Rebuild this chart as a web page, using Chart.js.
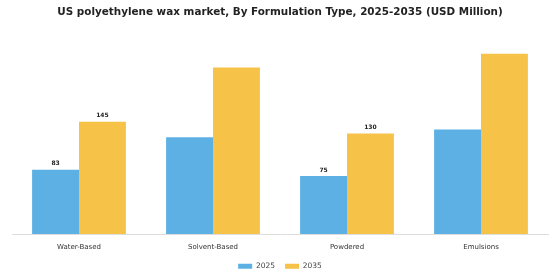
<!DOCTYPE html>
<html>
<head>
<meta charset="utf-8">
<script src="https://cdn.jsdelivr.net/npm/chart.js@4"></script>
<style>
  html, body { margin: 0; padding: 0; background: #fff; }
  #wrap { width: 560px; height: 280px; }
</style>
</head>
<body>
<div id="wrap"><canvas id="chart"></canvas></div>
<script>
const categories = ['Water-Based', 'Solvent-Based', 'Powdered', 'Emulsions'];
const values2025 = [83, 125, 75, 135];
const values2035 = [145, 215, 130, 233];
// only some bars carry a value label in the original
const labels2025 = ['83', '', '75', ''];
const labels2035 = ['145', '', '130', ''];

const barLabels = {
    id: 'barLabels',
    afterDatasetsDraw(chart) {
        const ctx = chart.ctx;
        const texts = [labels2025, labels2035];
        ctx.save();
        ctx.font = 'bold 6px "DejaVu Sans"';
        ctx.fillStyle = '#222';
        ctx.textAlign = 'center';
        ctx.textBaseline = 'bottom';
        chart.data.datasets.forEach((ds, i) => {
            chart.getDatasetMeta(i).data.forEach((bar, j) => {
                if (texts[i][j]) ctx.fillText(texts[i][j], bar.x, bar.y - 3);
            });
        });
        ctx.restore();
    }
};

const data = {
    labels: categories,
    datasets: [{
        label: '2025',
        data: values2025,
        backgroundColor: '#5DB0E4'
    }, {
        label: '2035',
        data: values2035,
        backgroundColor: '#F6C247'
    }]
};

const options = {
    responsive: true,
    maintainAspectRatio: false,
    animation: false,
    layout: { padding: { left: 12, right: 12, top: 4, bottom: 0 } },
    datasets: {
        bar: { barPercentage: 1, categoryPercentage: 0.7 }
    },
    plugins: {
        title: {
            display: true,
            text: 'US polyethylene wax market, By Formulation Type, 2025-2035 (USD Million)',
            color: '#222',
            font: { family: 'DejaVu Sans', size: 10.4, weight: 'bold' },
            padding: { top: 2, bottom: 22 }
        },
        legend: {
            position: 'bottom',
            labels: {
                boxWidth: 14,
                boxHeight: 5,
                color: '#444',
                font: { family: 'DejaVu Sans', size: 7.5 },
                padding: 10
            }
        },
        tooltip: { enabled: false }
    },
    scales: {
        x: {
            grid: { display: false },
            border: { display: true, color: '#ddd' },
            ticks: { color: '#333', font: { family: 'DejaVu Sans', size: 7 }, padding: 1 }
        },
        y: {
            display: false,
            min: 0,
            max: 250
        }
    }
};

new Chart('chart', { type: 'bar', data, options, plugins: [barLabels] });
</script>
</body>
</html>
